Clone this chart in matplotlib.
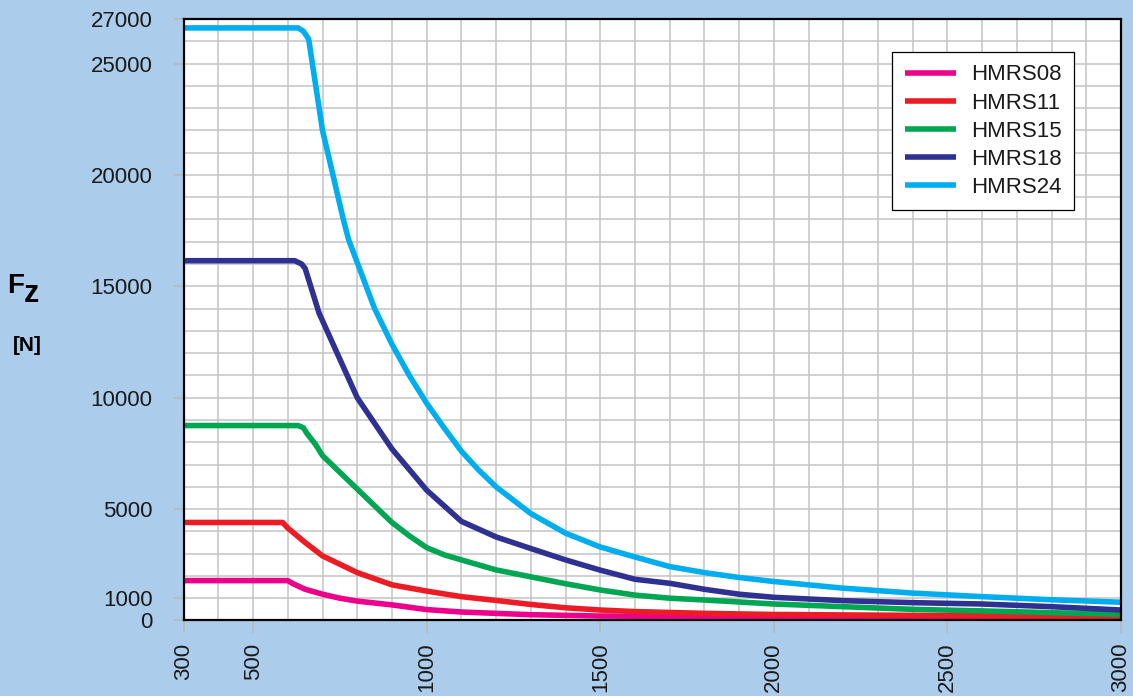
import numpy as np
from matplotlib import pyplot as plt
from matplotlib.ticker import MultipleLocator

plt.rcParams['font.family'] = ['Liberation Sans', 'DejaVu Sans']

# load curves, Fz [N] against speed
x08 = [300, 600, 615, 650, 700, 750, 800, 900, 1000, 1100, 1200, 1300, 1500, 2000, 2500, 3000]
y08 = [1790, 1790, 1650, 1400, 1180, 1000, 870, 700, 490, 380, 320, 260, 200, 150, 120, 100]

x11 = [300, 585, 600, 650, 700, 800, 900, 1000, 1100, 1200, 1300, 1400, 1500, 1600, 1800, 2000, 2500, 3000]
y11 = [4400, 4400, 4150, 3500, 2900, 2150, 1600, 1320, 1070, 900, 720, 570, 470, 400, 320, 270, 220, 180]

x15 = [300, 630, 645, 655, 680, 700, 750, 800, 850, 900, 950, 1000, 1050, 1100, 1200, 1300, 1400, 1500,
       1600, 1700, 1800, 1900, 2000, 2200, 2400, 2600, 2800, 3000]
y15 = [8750, 8750, 8650, 8400, 7900, 7400, 6650, 5900, 5150, 4400, 3800, 3270, 2950, 2720, 2270, 1960, 1650, 1370,
       1140, 1000, 920, 830, 740, 620, 500, 430, 350, 280]

x18 = [300, 620, 640, 650, 690, 800, 900, 1000, 1100, 1200, 1300, 1400, 1500, 1600, 1700, 1800, 1900,
       2000, 2200, 2400, 2600, 2800, 3000]
y18 = [16150, 16150, 16000, 15800, 13800, 10000, 7700, 5850, 4450, 3750, 3230, 2720, 2260, 1850, 1670, 1400, 1180,
       1040, 890, 800, 740, 620, 470]

x24 = [300, 630, 645, 660, 700, 760, 775, 850, 900, 950, 1000, 1050, 1100, 1150, 1200, 1300, 1400, 1500, 1600,
       1700, 1800, 1900, 2000, 2200, 2400, 2600, 2800, 3000]
y24 = [26600, 26600, 26450, 26100, 22000, 18000, 17100, 14000, 12400, 11000, 9750, 8650, 7600, 6750, 6000, 4800,
       3920, 3300, 2850, 2420, 2150, 1930, 1750, 1450, 1230, 1070, 930, 820]

names = ['HMRS08', 'HMRS11', 'HMRS15', 'HMRS18', 'HMRS24']
colors = ['#ec008c', '#ed1c24', '#00a651', '#2e3192', '#00aeef']

xticks = [300, 500, 1000, 1500, 2000, 2500, 3000]
yticks = [0, 1000, 5000, 10000, 15000, 20000, 25000, 27000]

bg = '#abcdeb'
fig = plt.figure(figsize=(11.33, 6.96), dpi=100, facecolor=bg)
ax = fig.add_axes([0.1621, 0.1085, 0.8273, 0.8642])

for xs, ys, name, c in zip([x08, x11, x15, x18, x24], [y08, y11, y15, y18, y24], names, colors):
    ax.plot(xs, ys, color=c, lw=4.0, label=name, solid_joinstyle='round', solid_capstyle='butt', zorder=3)

ax.set_xlim(300, 3000)
ax.set_ylim(0, 27000)
ax.set_xticks(xticks)
ax.set_yticks(yticks)
ax.xaxis.set_minor_locator(MultipleLocator(100))
ax.yaxis.set_minor_locator(MultipleLocator(1000))
ax.grid(which='both', color='#c4c4c4', lw=1.1, zorder=1)
ax.tick_params(which='minor', length=0)
ax.tick_params(axis='y', which='major', length=7.5, width=1.1, color='#b8b8b8', pad=15, labelsize=16, labelcolor='#1a1a1a')
ax.tick_params(axis='x', which='major', length=9, width=1.1, color='#b8b8b8', pad=7, labelsize=16,
               labelcolor='#1a1a1a', labelrotation=90)
for s in ax.spines.values():
    s.set_color('black')
    s.set_linewidth(1.6)
    s.set_zorder(4)

leg = ax.legend(loc='upper right', bbox_to_anchor=(0.948, 0.925), bbox_transform=fig.transFigure,
                borderaxespad=0, fontsize=16, handlelength=2.3, handletextpad=0.7, labelspacing=0.32,
                borderpad=0.55, fancybox=False, framealpha=1, edgecolor='black')
leg.get_frame().set_linewidth(0.9)
for t in leg.get_texts():
    t.set_color('#1a1a1a')

# axis name on the left margin
fig.text(7 / 1133, 1 - 293 / 696, 'F', fontsize=20, fontweight='bold', va='baseline', ha='left')
fig.text(24 / 1133, 1 - 302 / 696, 'z', fontsize=22, fontweight='bold', va='baseline', ha='left')
fig.text(13 / 1133, 1 - 351 / 696, '[N]', fontsize=15, fontweight='bold', va='baseline', ha='left')

fig.savefig('out.png', dpi=100, facecolor=bg)
